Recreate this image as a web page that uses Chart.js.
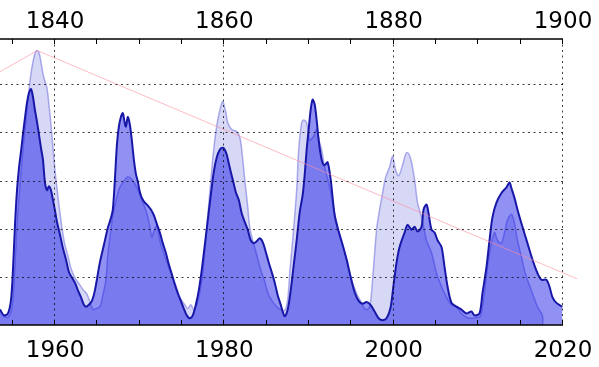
<!DOCTYPE html>
<html>
<head>
<meta charset="utf-8">
<script src="https://cdn.jsdelivr.net/npm/chart.js@4.4.0/dist/chart.umd.min.js"></script>
<style>
  html, body { margin: 0; padding: 0; background: #fff; }
  #wrap { position: relative; width: 599px; height: 367px; }
</style>
</head>
<body>
<div id="wrap"><canvas id="chart"></canvas></div>
<script>
// recent cycles (bottom axis)
const recentYears = [
  1953.50,1953.97,1954.44,1954.80,1955.03,1955.27,1955.51,1955.74,1955.98,1956.21,
  1956.45,1956.69,1956.92,1957.16,1957.39,1957.63,1957.87,1958.10,1958.34,1958.57,
  1958.81,1959.05,1959.28,1959.52,1959.75,1959.99,1960.23,1960.58,1960.93,1961.29,
  1961.64,1962.00,1962.35,1962.70,1963.06,1963.41,1963.65,1964.00,1964.36,1964.71,
  1965.30,1965.77,1966.24,1966.60,1966.83,1967.07,1967.31,1967.54,1967.78,1968.01,
  1968.19,1968.37,1968.60,1968.84,1969.07,1969.31,1969.55,1969.78,1970.02,1970.25,
  1970.61,1970.96,1971.32,1971.67,1972.02,1972.38,1972.73,1973.09,1973.44,1973.79,
  1974.15,1974.50,1974.86,1975.21,1975.56,1975.92,1976.27,1976.63,1976.98,1977.33,
  1977.69,1978.04,1978.40,1978.75,1979.10,1979.46,1979.81,1980.05,1980.28,1980.52,
  1980.76,1980.99,1981.35,1981.70,1982.05,1982.41,1982.76,1983.12,1983.47,1983.82,
  1984.18,1984.53,1984.89,1985.24,1985.59,1985.95,1986.30,1986.66,1986.89,1987.13,
  1987.48,1987.84,1988.19,1988.54,1988.90,1989.25,1989.49,1989.72,1989.96,1990.20,
  1990.43,1990.67,1990.90,1991.14,1991.38,1991.61,1991.85,1992.20,1992.56,1993.03,
  1993.50,1993.97,1994.44,1994.91,1995.39,1995.86,1996.33,1996.80,1997.27,1997.75,
  1998.22,1998.69,1999.16,1999.63,1999.99,2000.34,2000.70,2001.29,2001.64,2002.11,
  2002.47,2002.82,2003.29,2003.53,2003.88,2004.12,2004.47,2004.83,2005.18,2005.65,
  2006.01,2006.36,2006.83,2007.42,2008.01,2008.60,2009.19,2009.55,2010.14,2010.49,
  2010.96,2011.32,2011.67,2012.14,2012.73,2013.32,2013.68,2013.91,2014.27,2014.62,
  2015.21,2015.80,2016.39,2016.98,2017.45,2018.04,2018.40,2018.75,2019.22,2019.93
];
const recentValues = [
  16,10,12,26,57,104,140,163,180,198,
  215,231,241,245,237,223,211,198,184,172,
  148,140,144,140,130,119,107,94,80,68,
  55,49,44,36,29,21,19,21,25,36,
  65,83,101,111,120,151,187,206,216,220,
  212,206,216,208,192,172,157,149,138,132,
  127,124,120,114,105,96,85,75,63,53,
  42,33,25,17,10,7,10,21,36,57,
  83,109,135,159,174,182,184,182,177,168,
  159,151,138,130,116,107,99,88,85,87,
  90,86,76,65,55,44,31,21,14,9,
  16,36,62,88,117,135,156,182,203,224,
  234,229,213,192,177,168,166,169,151,114,
  97,83,68,50,34,25,22,24,21,14,
  7,5,7,18,42,65,81,96,104,99,
  102,97,102,120,125,116,99,96,88,81,
  60,40,23,19,16,12,14,10,12,33,
  60,88,112,127,137,143,148,142,132,120,
  102,85,68,54,47,47,40,29,23,19
];

// early cycles (top axis)
const earlyYears = [
  1833.50,1833.97,1834.44,1834.80,1835.03,1835.27,1835.51,1835.86,1836.21,1836.57,
  1836.92,1837.16,1837.39,1837.63,1837.87,1838.10,1838.34,1838.57,1838.81,1839.05,
  1839.28,1839.52,1839.75,1839.99,1840.23,1840.46,1840.82,1841.17,1841.52,1841.88,
  1842.35,1842.82,1843.29,1843.77,1844.12,1844.47,1844.83,1845.30,1845.65,1846.01,
  1846.24,1846.60,1846.83,1847.31,1847.66,1848.25,1848.60,1849.08,1849.66,1850.25,
  1850.84,1851.20,1851.43,1851.67,1852.02,1852.38,1852.97,1853.56,1854.15,1854.74,
  1855.33,1855.68,1856.04,1856.39,1856.74,1857.10,1857.45,1857.81,1858.16,1858.51,
  1858.87,1859.22,1859.58,1859.81,1860.17,1860.40,1860.87,1861.46,1861.82,1862.05,
  1862.41,1862.76,1862.99,1863.35,1863.82,1864.30,1864.77,1865.24,1865.71,1866.18,
  1866.66,1867.13,1867.48,1867.72,1868.07,1868.54,1868.78,1869.13,1869.37,1869.72,
  1870.08,1870.55,1870.90,1871.26,1871.49,1871.85,1872.44,1873.03,1873.38,1873.85,
  1874.44,1875.03,1875.62,1876.21,1876.68,1877.16,1877.51,1877.98,1878.34,1878.69,
  1879.04,1879.52,1879.87,1880.22,1880.58,1881.05,1881.40,1881.64,1881.88,1882.11,
  1882.47,1882.82,1883.29,1883.88,1884.47,1885.06,1885.65,1886.24,1886.83,1887.42,
  1888.01,1888.60,1889.19,1889.78,1890.25,1890.72,1891.08,1891.55,1891.91,1892.26,
  1892.73,1893.09,1893.44,1893.91,1894.27,1894.62,1895.09,1895.44,1895.80,1896.39,
  1896.98,1897.57,1897.60
];
const earlyValues = [
  16,9,8,14,26,62,104,146,182,213,
  244,261,273,282,285,283,273,261,253,246,
  229,208,185,161,142,125,101,83,72,59,
  49,43,37,32,24,16,17,19,31,47,
  73,99,114,133,143,151,154,151,143,130,
  116,102,91,97,103,88,71,57,44,29,
  21,17,21,16,21,34,54,88,125,161,
  192,213,227,232,221,210,203,201,195,182,
  151,123,102,88,73,57,45,31,24,19,
  16,15,26,54,88,140,182,210,213,210,
  192,196,203,189,182,164,143,116,102,88,
  68,47,33,23,16,19,47,99,120,137,
  153,164,175,161,155,166,177,179,176,169,
  151,127,112,88,75,54,40,29,21,19,
  12,8,7,8,9,33,60,85,96,88,
  85,96,109,115,106,88,71,57,47,33,
  19,10,0
];

// thin pink line (top axis years)
const trendYears = [1833.5, 1837.9, 1901.66];
const trendValues = [263, 285, 48];

const topTicks = [1835,1840,1845,1850,1855,1860,1865,1870,1875,1880,1885,1890,1895,1900];
const bottomTicks = [1955,1960,1965,1970,1975,1980,1985,1990,1995,2000,2005,2010,2015,2020];
const gridValues = [50, 100, 150, 200, 250];

const pts = (xs, ys) => xs.map((x, i) => ({ x: x, y: ys[i] }));

Chart.defaults.font.family = "'DejaVu Sans', sans-serif";
Chart.defaults.color = '#000';

// dotted grid on top of the fills, inward ticks and spines
const frame = {
  id: 'frame',
  afterDatasetsDraw(chart) {
    const { ctx, chartArea: a, scales } = chart;
    ctx.save();
    ctx.strokeStyle = 'rgba(0,0,0,0.75)';
    ctx.lineWidth = 1;
    ctx.setLineDash([2, 3.5]);
    ctx.beginPath();
    gridValues.forEach(v => {
      const y = Math.round(scales.y.getPixelForValue(v)) + 0.5;
      ctx.moveTo(a.left, y); ctx.lineTo(a.right, y);
    });
    bottomTicks.filter(t => t % 20 === 0).forEach(t => {
      const x = Math.round(scales.x.getPixelForValue(t)) - 0.5;
      ctx.moveTo(x, a.top); ctx.lineTo(x, a.bottom);
    });
    ctx.stroke();
    ctx.restore();
  },
  afterDraw(chart) {
    const { ctx, chartArea: a, scales } = chart;
    ctx.save();
    ctx.strokeStyle = '#000';
    ctx.lineWidth = 1;
    ctx.beginPath();
    topTicks.forEach(t => {
      const x = Math.round(scales.x2.getPixelForValue(t)) - 0.5;
      ctx.moveTo(x, a.top); ctx.lineTo(x, a.top + 5);
    });
    bottomTicks.forEach(t => {
      const x = Math.round(scales.x.getPixelForValue(t)) - 0.5;
      ctx.moveTo(x, a.bottom); ctx.lineTo(x, a.bottom - 5);
    });
    ctx.stroke();
    ctx.lineWidth = 1.5;
    ctx.beginPath();
    ctx.moveTo(a.left, a.top); ctx.lineTo(a.right, a.top);
    ctx.moveTo(a.left, a.bottom); ctx.lineTo(a.right, a.bottom);
    ctx.stroke();
    ctx.restore();
  }
};

const yearLabel = v => (v % 20 === 0 ? String(v) : '');

new Chart(document.getElementById('chart'), {
  type: 'line',
  data: {
    datasets: [
      {
        data: pts(trendYears, trendValues),
        xAxisID: 'x2',
        borderColor: 'rgba(255,140,155,0.6)',
        borderWidth: 1,
        fill: false,
        pointRadius: 0,
        clip: false,
        order: 0
      },
      {
        data: pts(recentYears, recentValues),
        xAxisID: 'x',
        borderColor: '#1818a8',
        borderWidth: 2,
        backgroundColor: 'rgba(0,0,230,0.43)',
        fill: 'origin',
        pointRadius: 0,
        tension: 0.3,
        order: 1
      },
      {
        data: pts(earlyYears, earlyValues),
        xAxisID: 'x2',
        borderColor: 'rgba(110,110,220,0.55)',
        borderWidth: 1.5,
        backgroundColor: 'rgba(100,100,220,0.26)',
        fill: 'origin',
        pointRadius: 0,
        tension: 0.3,
        order: 2
      }
    ]
  },
  options: {
    responsive: true,
    maintainAspectRatio: false,
    animation: false,
    layout: { padding: { left: 0, right: 36, top: 0, bottom: 0 } },
    plugins: { legend: { display: false }, tooltip: { enabled: false } },
    scales: {
      x: {
        type: 'linear',
        position: 'bottom',
        min: 1953.5,
        max: 2020,
        afterBuildTicks: s => { s.ticks = bottomTicks.map(v => ({ value: v })); },
        afterFit: s => { s.height = 42; },
        grid: { display: false },
        border: { display: false },
        ticks: { autoSkip: false, maxRotation: 0, padding: 4, font: { size: 23 }, callback: yearLabel }
      },
      x2: {
        type: 'linear',
        position: 'top',
        min: 1833.5,
        max: 1900,
        afterBuildTicks: s => { s.ticks = topTicks.map(v => ({ value: v })); },
        afterFit: s => { s.height = 39; },
        grid: { display: false },
        border: { display: false },
        ticks: { autoSkip: false, maxRotation: 0, padding: -5, font: { size: 23 }, callback: yearLabel }
      },
      y: { display: false, min: 0, max: 297 }
    }
  },
  plugins: [frame]
});
</script>
</body>
</html>
